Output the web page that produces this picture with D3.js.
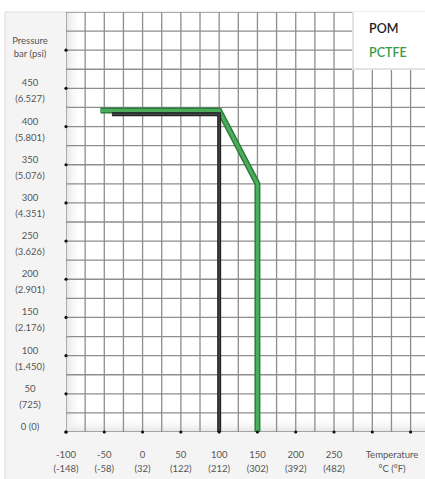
<!DOCTYPE html>
<html>
<head>
    <meta charset="UTF-8" />
    <title>Pressure / Temperature</title>
    <script src="https://d3js.org/d3.v7.min.js"></script>
    <style>
    body { margin: 0; background: #fff; }
    text { font-family: Lato, "Open Sans", sans-serif; }
    </style>
</head>
<body>
<div id="main"></div>
<script type="text/javascript">

// data
const pomTemp = [-40, 100, 100]
const pomPressure = [416, 416, 0]
const pctfeTemp = [-55, 100, 150, 150]
const pctfePressure = [421, 421, 325, 0]

const xTicks = [-100, -50, 0, 50, 100, 150, 200, 250]
const xTickF = ['(-148)', '(-58)', '(32)', '(122)', '(212)', '(302)', '(392)', '(482)']
const yTicks = [0, 50, 100, 150, 200, 250, 300, 350, 400, 450]
const yTickPsi = ['(0)', '(725)', '(1.450)', '(2.176)', '(2.901)', '(3.626)', '(4.351)', '(5.076)', '(5.801)', '(6.527)']

const width = 425
const height = 479
const plotLeft = 66, plotTop = 12, plotBottom = 432, plotRight = 425

const x = d3.scaleLinear().domain([-100, 350]).range([plotLeft, 410.6])
const y = d3.scaleLinear().domain([0, 550]).range([plotBottom, plotTop])

const svg = d3.select('#main').append('svg')
  .attr('width', width)
  .attr('height', height)

const defs = svg.append('defs')
const gl = defs.append('linearGradient').attr('id', 'shadeLeft')
gl.append('stop').attr('offset', 0).attr('stop-color', '#e4e4e4')
gl.append('stop').attr('offset', 1).attr('stop-color', '#fff').attr('stop-opacity', 0)
const gb = defs.append('linearGradient').attr('id', 'shadeBottom')
  .attr('x1', 0).attr('x2', 0).attr('y1', 1).attr('y2', 0)
gb.append('stop').attr('offset', 0).attr('stop-color', '#e4e4e4')
gb.append('stop').attr('offset', 1).attr('stop-color', '#fff').attr('stop-opacity', 0)
const clip = defs.append('clipPath').attr('id', 'plotClip')
clip.append('rect').attr('x', plotLeft).attr('y', plotTop)
  .attr('width', plotRight - plotLeft).attr('height', plotBottom - plotTop)

// frame panels
svg.append('rect').attr('x', 5).attr('y', plotTop).attr('width', width - 5).attr('height', height - plotTop)
  .attr('fill', '#f4f4f4')
svg.append('path').attr('d', `M5,${height}V${plotTop}H${width}`)
  .attr('fill', 'none').attr('stroke', '#dcdcdc')

const plot = svg.append('g').attr('clip-path', 'url(#plotClip)')
plot.append('rect').attr('x', plotLeft).attr('y', plotTop)
  .attr('width', plotRight - plotLeft).attr('height', plotBottom - plotTop).attr('fill', '#fff')
plot.append('rect').attr('x', plotLeft).attr('y', plotTop)
  .attr('width', 16).attr('height', plotBottom - plotTop).attr('fill', 'url(#shadeLeft)')
plot.append('rect').attr('x', plotLeft).attr('y', plotBottom - 16)
  .attr('width', plotRight - plotLeft).attr('height', 16).attr('fill', 'url(#shadeBottom)')

// grid every 25
const xGrid = d3.range(-100, 376, 25)
const yGrid = d3.range(0, 551, 25)
plot.selectAll('.vgrid').data(xGrid).enter().append('line')
  .attr('class', 'vgrid')
  .attr('x1', d => x(d)).attr('x2', d => x(d))
  .attr('y1', plotTop).attr('y2', plotBottom)
  .attr('stroke', '#8e8e8e').attr('stroke-width', 1.3)
plot.selectAll('.hgrid').data(yGrid).enter().append('line')
  .attr('class', 'hgrid')
  .attr('x1', plotLeft).attr('x2', plotRight)
  .attr('y1', d => y(d)).attr('y2', d => y(d))
  .attr('stroke', '#8e8e8e').attr('stroke-width', 1.3)

// series
const line = d3.line().x(d => x(d[0])).y(d => y(d[1]))
const pctfe = d3.zip(pctfeTemp, pctfePressure)
const pom = d3.zip(pomTemp, pomPressure)

plot.append('path').datum(pctfe).attr('d', line)
  .attr('fill', 'none').attr('stroke', '#2f7d3c').attr('stroke-width', 6)
  .attr('stroke-linejoin', 'miter')
plot.append('path').datum(pctfe).attr('d', line)
  .attr('fill', 'none').attr('stroke', '#4cae5c').attr('stroke-width', 3)
  .attr('stroke-linejoin', 'miter')

plot.append('path').datum(pom).attr('d', line)
  .attr('fill', 'none').attr('stroke', '#222').attr('stroke-width', 4)
  .attr('stroke-linejoin', 'miter')
plot.append('path').datum(pom).attr('d', line)
  .attr('fill', 'none').attr('stroke', '#444').attr('stroke-width', 1.5)
  .attr('stroke-linejoin', 'miter')

// tick dots
svg.selectAll('.xdot').data(xTicks.concat([300, 350])).enter().append('circle')
  .attr('cx', d => x(d)).attr('cy', plotBottom).attr('r', 1.6).attr('fill', '#111')
svg.selectAll('.ydot').data(yTicks.concat([500])).enter().append('circle')
  .attr('cx', plotLeft).attr('cy', d => y(d)).attr('r', 1.6).attr('fill', '#111')

// y labels
const yLab = svg.append('g').attr('fill', '#555').attr('font-size', 9.5).attr('text-anchor', 'middle')
yTicks.forEach((v, i) => {
  if (v === 0) {
    yLab.append('text').attr('x', 30).attr('y', y(v) - 2).text('0 (0)')
  } else {
    yLab.append('text').attr('x', 30).attr('y', y(v) - 2).text(v)
    yLab.append('text').attr('x', 30).attr('y', y(v) + 14).text(yTickPsi[i])
  }
})
yLab.append('text').attr('x', 30).attr('y', y(500) - 6).text('Pressure')
yLab.append('text').attr('x', 30).attr('y', y(500) + 7).text('bar (psi)')

// x labels
const xLab = svg.append('g').attr('fill', '#555').attr('font-size', 9.5).attr('text-anchor', 'middle')
xTicks.forEach((v, i) => {
  xLab.append('text').attr('x', x(v)).attr('y', 458).text(v)
  xLab.append('text').attr('x', x(v)).attr('y', 472).text(xTickF[i])
})
xLab.append('text').attr('x', 392).attr('y', 458).text('Temperature')
xLab.append('text').attr('x', 392).attr('y', 472).text('°C (°F)')

// legend
svg.append('rect').attr('x', 352).attr('y', plotTop).attr('width', 80).attr('height', 58)
  .attr('fill', '#e2e2e2')
svg.append('rect').attr('x', 354).attr('y', plotTop).attr('width', 80).attr('height', 56)
  .attr('fill', '#fff')
svg.append('text').attr('x', 369).attr('y', 33).attr('font-size', 12.5).attr('font-weight', 600)
  .attr('fill', '#222').text('POM')
svg.append('text').attr('x', 369).attr('y', 57).attr('font-size', 12.5).attr('font-weight', 600)
  .attr('fill', '#3a9a4a').text('PCTFE')

</script>
</body>
</html>
